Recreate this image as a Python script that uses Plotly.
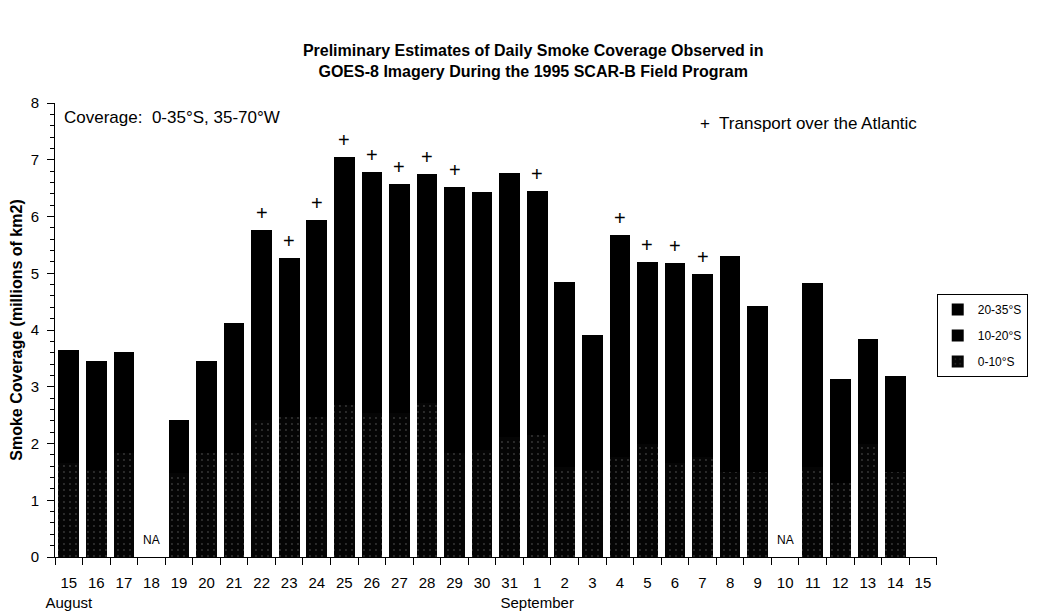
import plotly.graph_objects as go

# days: Aug 15 .. Aug 31, Sep 1 .. Sep 15
day_labels = ['15', '16', '17', '18', '19', '20', '21', '22', '23', '24', '25', '26', '27', '28', '29', '30', '31',
              '1', '2', '3', '4', '5', '6', '7', '8', '9', '10', '11', '12', '13', '14', '15']
month_labels = {0: 'August', 17: 'September'}

# smoke coverage (millions of km2) by latitude band; None = no data
band_0_10 = [1.66, 1.53, 1.83, None, 1.48, 1.83, 1.83, 2.41, 2.47, 2.47, 2.68, 2.54, 2.54, 2.71, 1.83, 1.89, 2.11,
             2.15, 1.59, 1.53, 1.76, 2.00, 1.66, 1.76, 1.50, 1.50, None, 1.59, 1.30, 2.00, 1.50, None]
band_10_20 = [1.05, 1.00, 0.95, None, 0.55, 0.90, 1.20, 1.70, 1.45, 1.75, 2.10, 2.05, 1.95, 2.00, 2.30, 2.20, 2.25,
              2.10, 1.60, 1.20, 1.90, 1.60, 1.75, 1.60, 1.85, 1.45, None, 1.60, 0.95, 0.95, 0.85, None]
band_20_35 = [0.94, 0.92, 0.83, None, 0.38, 0.72, 1.10, 1.65, 1.35, 1.72, 2.27, 2.19, 2.08, 2.04, 2.39, 2.34, 2.41,
              2.20, 1.66, 1.18, 2.01, 1.60, 1.77, 1.63, 1.95, 1.47, None, 1.63, 0.89, 0.90, 0.84, None]

# days with transport over the Atlantic (index into day_labels)
transport_days = [7, 8, 9, 10, 11, 12, 13, 14, 17, 20, 21, 22, 23]
na_days = [3, 26]

font_main = 'Liberation Sans'

x = list(range(len(day_labels)))

fig = go.Figure()
fig.add_trace(go.Bar(
    x=x, y=band_0_10, name='0-10°S', width=0.75, legendgroup='a', legendrank=3,
    marker=dict(color='#050505', line=dict(width=0),
                pattern=dict(shape='.', fillmode='overlay', fgcolor='#6a6a6a', size=6, solidity=0.08)),
))
fig.add_trace(go.Bar(x=x, y=band_10_20, name='10-20°S', width=0.75, legendgroup='b', legendrank=2,
                     marker=dict(color='#000000', line=dict(width=0))))
fig.add_trace(go.Bar(x=x, y=band_20_35, name='20-35°S', width=0.75, legendgroup='c', legendrank=1,
                     marker=dict(color='#000000', line=dict(width=0))))

annotations = []
for i in transport_days:
    top = band_0_10[i] + band_10_20[i] + band_20_35[i]
    annotations.append(dict(x=i, y=top, text='+', showarrow=False, yshift=17,
                            font=dict(size=20, color='black', family=font_main)))
for i in na_days:
    annotations.append(dict(x=i, y=0, text='NA', showarrow=False, yshift=17,
                            font=dict(size=12, color='black', family=font_main)))
annotations.append(dict(x=0.008, y=0.967, xref='paper', yref='paper', xanchor='left', yanchor='middle',
                        text='Coverage:  0-35°S, 35-70°W', showarrow=False,
                        font=dict(size=17, color='black', family=font_main)))
annotations.append(dict(x=0.98, y=0.954, xref='paper', yref='paper', xanchor='right', yanchor='middle',
                        text='+  Transport over the Atlantic', showarrow=False,
                        font=dict(size=17, color='black', family=font_main)))

ticktext = [lab + ('<br>' + month_labels[i] if i in month_labels else '') for i, lab in enumerate(day_labels)]

fig.update_layout(
    barmode='stack',
    width=1040, height=615,
    margin=dict(l=47, r=95, t=95, b=66),
    paper_bgcolor='white', plot_bgcolor='white',
    title=dict(text='Preliminary Estimates of Daily Smoke Coverage Observed in<br>'
                    'GOES-8 Imagery During the 1995 SCAR-B Field Program',
               x=0.505, xanchor='center', y=0.922, yanchor='middle',
               font=dict(size=16, color='black', family=font_main, weight='bold')),
    legend=dict(xref='container', yref='container', x=0.893, xanchor='left', y=0.535, yanchor='top',
                traceorder='grouped', bordercolor='black', borderwidth=1, bgcolor='white',
                font=dict(size=12, color='black', family=font_main),
                itemwidth=30, tracegroupgap=7),
    annotations=annotations,
    font=dict(family=font_main, color='black'),
    bargap=0.25,
)
fig.update_xaxes(
    range=[-0.5, len(day_labels) - 0.5], tickvals=x, ticktext=ticktext, ticks='', ticklen=0,
    tickangle=0, automargin=False, ticklabelstandoff=12,
    showline=True, linecolor='black', linewidth=1, showgrid=False, zeroline=False,
    tickfont=dict(size=15, color='black', family=font_main),
    minor=dict(tick0=-0.5, dtick=1, ticks='outside', ticklen=7, tickcolor='black', showgrid=False),
)
fig.update_yaxes(
    range=[0, 8], dtick=1, ticks='outside', ticklen=7, tickcolor='black', automargin=False,
    ticklabelstandoff=5,
    showline=True, linecolor='black', linewidth=1, showgrid=False, zeroline=False,
    tickfont=dict(size=15, color='black', family=font_main),
    minor=dict(dtick=0.2, ticks='outside', ticklen=4, tickcolor='black', showgrid=False),
    title=dict(text='<b>Smoke Coverage (millions of km2)</b>', standoff=10,
               font=dict(size=16, color='black', family=font_main)),
)

fig.write_html('out.html')
